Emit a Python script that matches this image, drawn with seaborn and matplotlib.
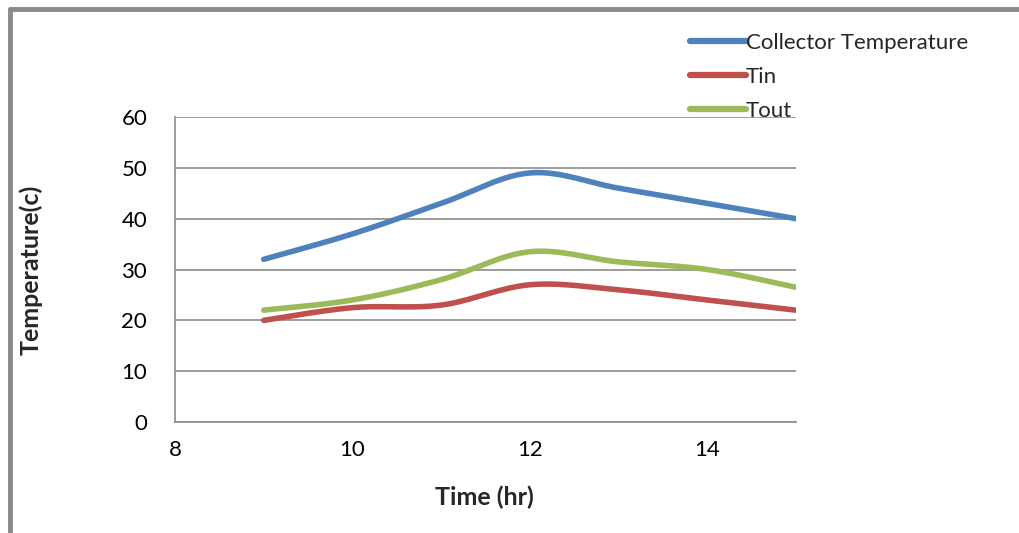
import numpy as np
import pandas as pd
import matplotlib
matplotlib.use("Agg")
import matplotlib.pyplot as plt
import seaborn as sns
from matplotlib.lines import Line2D

# values
time_hr = [9, 10, 11, 12, 13, 14, 15]
collector = [32, 37, 43, 49, 46, 43, 40]
t_in = [20, 22.5, 23, 27, 26, 24, 22]
t_out = [22, 24, 28, 33.5, 31.5, 30, 26.5]
series_names = ["Collector Temperature", "Tin", "Tout"]
colors = ["#4F81BD", "#C0504D", "#9BBB59"]


def smooth(x, y, n=30):
    # Catmull-Rom style smoothing, like Excel's "smoothed line"
    x = np.asarray(x, float)
    y = np.asarray(y, float)
    px = np.concatenate([[x[0]], x, [x[-1]]])
    py = np.concatenate([[y[0]], y, [y[-1]]])
    xs, ys = [], []
    for i in range(1, len(px) - 2):
        p0, p1, p2, p3 = [np.array([px[j], py[j]]) for j in (i - 1, i, i + 1, i + 2)]
        c1 = p1 + (p2 - p0) / 6
        c2 = p2 - (p3 - p1) / 6
        t = np.linspace(0, 1, n)[:, None]
        b = (1 - t) ** 3 * p1 + 3 * (1 - t) ** 2 * t * c1 + 3 * (1 - t) * t ** 2 * c2 + t ** 3 * p2
        xs.extend(b[:, 0]); ys.extend(b[:, 1])
    return xs, ys


frames = []
for name, vals in zip(series_names, [collector, t_in, t_out]):
    sx, sy = smooth(time_hr, vals)
    frames.append(pd.DataFrame({"Time": sx, "Temp": sy, "Series": name}))
df = pd.concat(frames, ignore_index=True)

sns.set_style("white")
plt.rcParams["font.family"] = ["Lato", "DejaVu Sans"]

fig = plt.figure(figsize=(10.19, 5.33), dpi=100)
ax = fig.add_axes([175 / 1019, 1 - 422 / 533, (796 - 175) / 1019, (422 - 117) / 533])

sns.lineplot(data=df, x="Time", y="Temp", hue="Series", palette=colors,
             hue_order=series_names, sort=False, estimator=None,
             linewidth=4, ax=ax, legend=False, zorder=3)

ax.set_xlim(8, 15)
ax.set_ylim(0, 60)
ax.set_xticks([8, 10, 12, 14])
ax.set_yticks(range(0, 61, 10))
ax.yaxis.grid(True, color="#8c8c8c", linewidth=1.2)
ax.xaxis.grid(False)
for s in ["top", "right"]:
    ax.spines[s].set_visible(False)
for s in ["left", "bottom"]:
    ax.spines[s].set_color("#8c8c8c")
    ax.spines[s].set_linewidth(1.2)
ax.tick_params(axis="both", length=0, labelsize=16, colors="black")
ax.tick_params(axis="x", pad=13)
ax.tick_params(axis="y", pad=20)

ax.set_xlabel("Time (hr)", fontsize=18, fontweight="bold")
ax.set_ylabel("Temperature(c)", fontsize=18, fontweight="bold")
ax.xaxis.set_label_coords((484 - 175) / 621, -(497 - 422) / 305)
ax.yaxis.set_label_coords(-(175 - 31) / 621, 0.5)
ax.xaxis.label.set_va("center")
ax.yaxis.label.set_va("center")

handles = [Line2D([0], [0], color=c, linewidth=4.5) for c in colors]
fig.legend(handles, series_names, loc="upper left",
           bbox_to_anchor=(679 / 1019, 1 - 22 / 533), frameon=False,
           fontsize=16, handlelength=2.5, handletextpad=0.02,
           labelspacing=0.62, borderpad=0)

# outer chart frame (only top and left edges are visible in the crop)
fig.add_artist(Line2D([10 / 1019, 1], [1 - 9 / 533, 1 - 9 / 533],
                      transform=fig.transFigure, color="#8a8a8a", linewidth=3.5))
fig.add_artist(Line2D([10 / 1019, 10 / 1019], [0, 1 - 9 / 533],
                      transform=fig.transFigure, color="#8a8a8a", linewidth=3.5))

fig.savefig("out.png", dpi=100)
